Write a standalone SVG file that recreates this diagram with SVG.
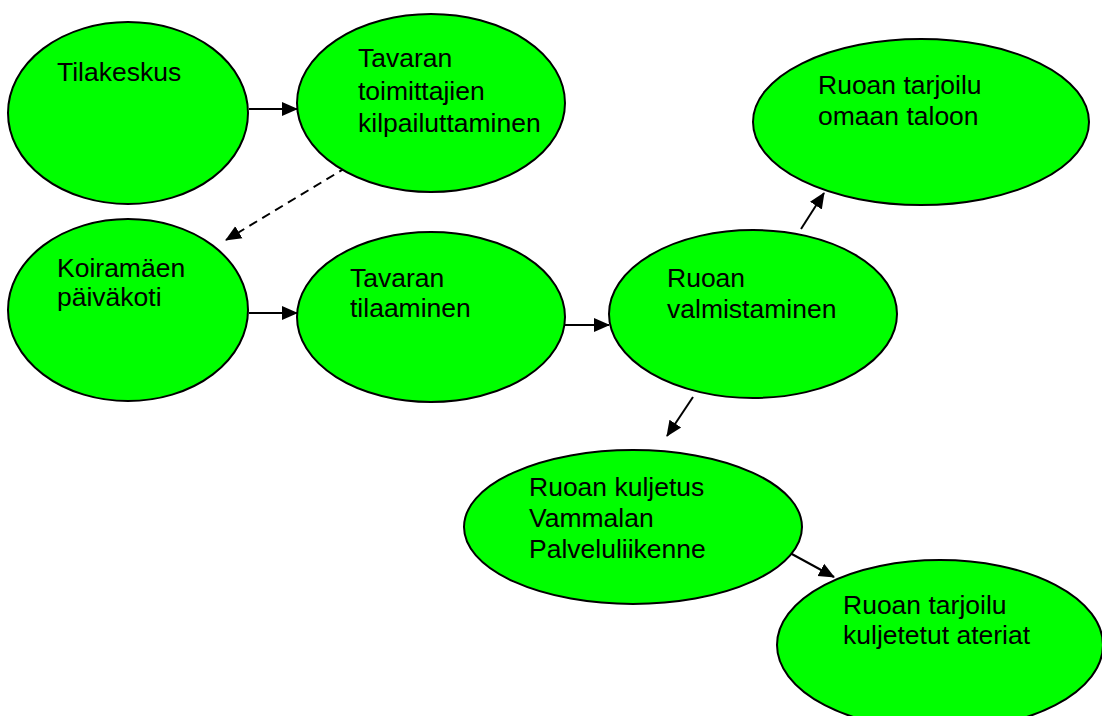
<svg xmlns="http://www.w3.org/2000/svg" width="1102" height="716" viewBox="0 0 1102 716">
  <style>
    .node { fill: #00ff00; stroke: #000; stroke-width: 2; }
    .label { font-family: "Liberation Sans", Arial, sans-serif; font-size: 26.5px; fill: #000; }
    .edge { stroke: #000; stroke-width: 2; fill: none; marker-end: url(#arrow); }
    .dashed { stroke-dasharray: 9 6; }
  </style>
  <defs>
    <marker id="arrow" markerUnits="userSpaceOnUse" markerWidth="16" markerHeight="16" viewBox="0 0 16 16" refX="15" refY="8" orient="auto">
      <path d="M0,1 L16,8 L0,15 Z" fill="#000"/>
    </marker>
  </defs>
  <rect width="1102" height="716" fill="#fff"/>

  <!-- connectors -->
  <g id="connectors">
    <line class="edge" x1="249" y1="109" x2="297" y2="109"/>
    <line class="edge dashed" x1="347" y1="167" x2="226" y2="240"/>
    <line class="edge" x1="249" y1="313" x2="297" y2="313"/>
    <line class="edge" x1="562" y1="325" x2="609" y2="325"/>
    <line class="edge" x1="801" y1="229" x2="824" y2="193"/>
    <line class="edge" x1="693" y1="397" x2="667" y2="436"/>
    <line class="edge" x1="790" y1="553" x2="834" y2="577"/>
  </g>

  <g id="tilakeskus">
    <ellipse class="node" cx="128" cy="113" rx="120" ry="91"/>
    <text class="label" x="57" y="81">Tilakeskus</text>
  </g>

  <g id="kilpailutus">
    <ellipse class="node" cx="431" cy="103" rx="134" ry="89"/>
    <text class="label" x="358" y="67">
      <tspan x="358">Tavaran</tspan>
      <tspan x="358" dy="33">toimittajien</tspan>
      <tspan x="358" dy="32">kilpailuttaminen</tspan>
    </text>
  </g>

  <g id="paivakoti">
    <ellipse class="node" cx="128" cy="310" rx="120" ry="91"/>
    <text class="label" x="57" y="277">
      <tspan x="57">Koiramäen</tspan>
      <tspan x="57" dy="29">päiväkoti</tspan>
    </text>
  </g>

  <g id="tilaaminen">
    <ellipse class="node" cx="431" cy="317" rx="134" ry="85"/>
    <text class="label" x="350" y="287">
      <tspan x="350">Tavaran</tspan>
      <tspan x="350" dy="30">tilaaminen</tspan>
    </text>
  </g>

  <g id="valmistaminen">
    <ellipse class="node" cx="753" cy="314" rx="144" ry="84"/>
    <text class="label" x="667" y="287">
      <tspan x="667">Ruoan</tspan>
      <tspan x="667" dy="31">valmistaminen</tspan>
    </text>
  </g>

  <g id="tarjoilu-talo">
    <ellipse class="node" cx="921" cy="122" rx="168" ry="83"/>
    <text class="label" x="818" y="94">
      <tspan x="818">Ruoan tarjoilu</tspan>
      <tspan x="818" dy="31">omaan taloon</tspan>
    </text>
  </g>

  <g id="kuljetus">
    <ellipse class="node" cx="633" cy="527" rx="169" ry="77"/>
    <text class="label" x="529" y="496">
      <tspan x="529">Ruoan kuljetus</tspan>
      <tspan x="529" dy="31">Vammalan</tspan>
      <tspan x="529" dy="31">Palveluliikenne</tspan>
    </text>
  </g>

  <g id="tarjoilu-kuljetetut">
    <ellipse class="node" cx="940" cy="645" rx="163" ry="85"/>
    <text class="label" x="843" y="614">
      <tspan x="843">Ruoan tarjoilu</tspan>
      <tspan x="843" dy="30">kuljetetut ateriat</tspan>
    </text>
  </g>
</svg>
